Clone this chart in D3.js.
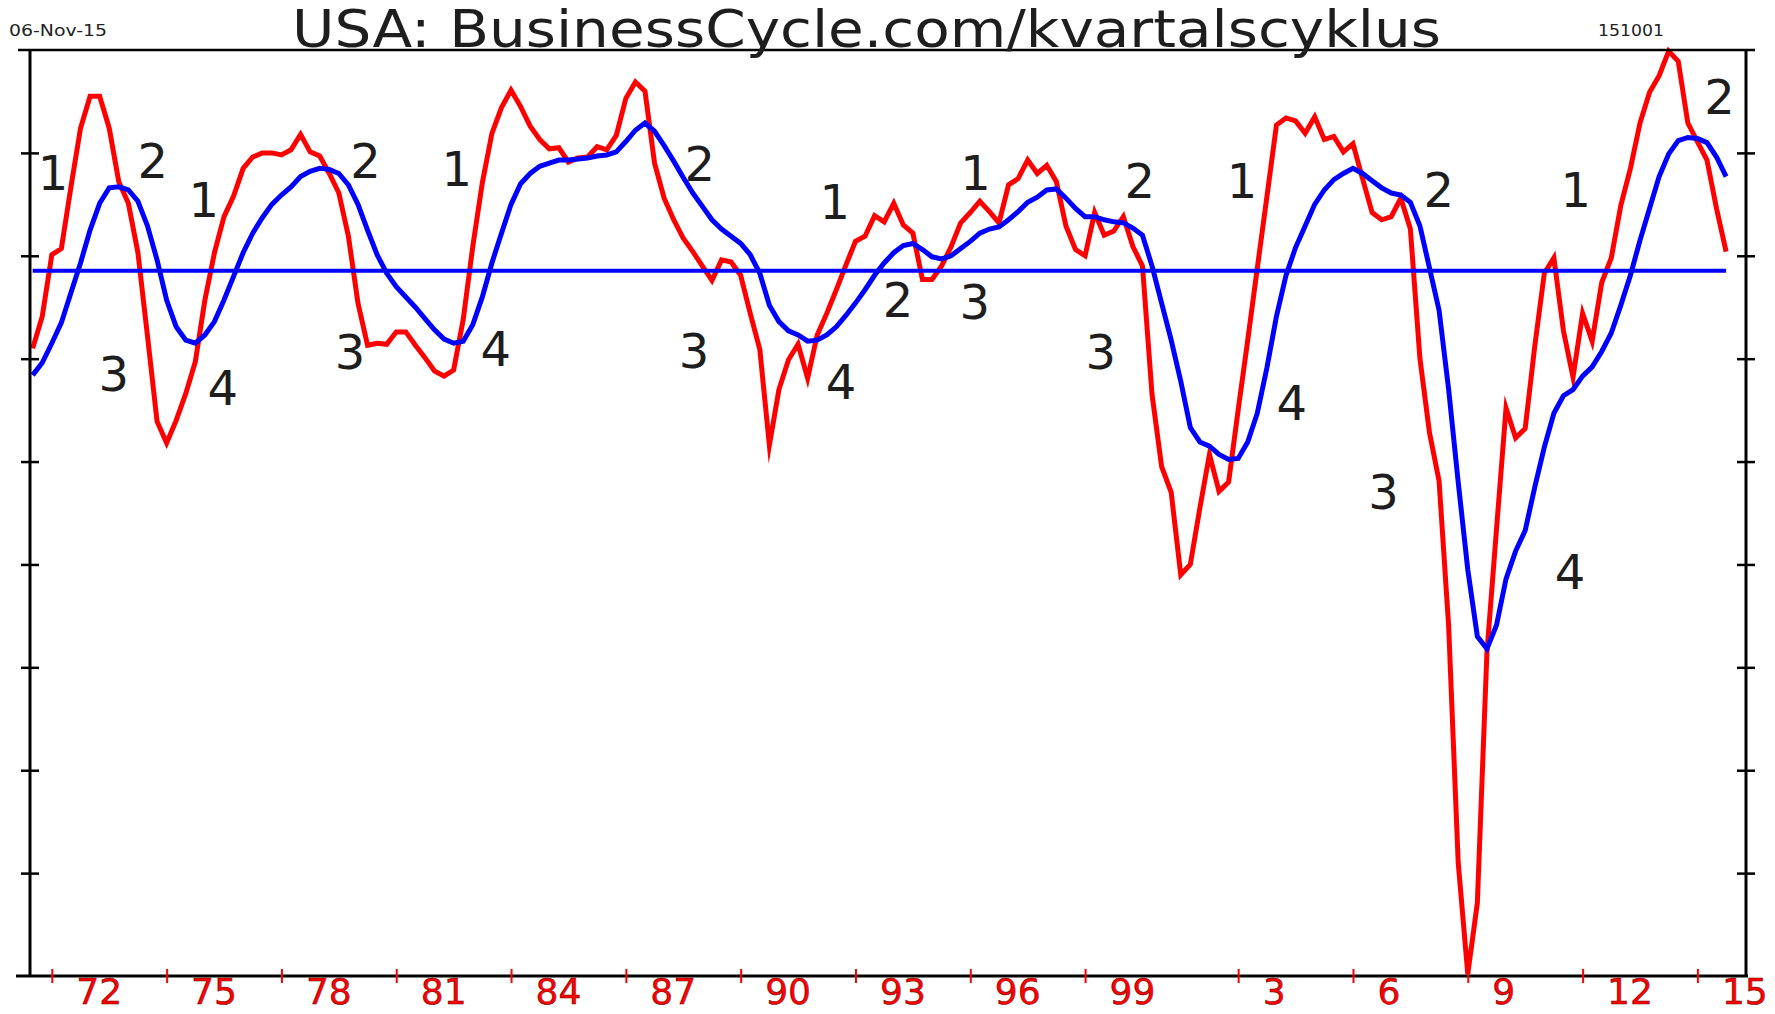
<!DOCTYPE html>
<html>
<head>
<meta charset="utf-8">
<script src="https://cdn.jsdelivr.net/npm/d3@7"></script>
<style>
  body { margin: 0; background: #fff; }
  svg { display: block; }
</style>
</head>
<body>
<div id="chart"></div>
<script>
// quarterly series, first value is Q3 1971 (1971.5)
var startYear = 1971.5;

var cycle = [
  -0.90, -0.59, 0.01, 0.07, 0.67, 1.24, 1.55, 1.55, 1.24, 0.72,
  0.51, 0.03, -0.78, -1.61, -1.82, -1.60, -1.34, -1.03, -0.43, 0.03,
  0.38, 0.58, 0.85, 0.96, 1.00, 1.00, 0.98, 1.03, 1.18, 1.01,
  0.97, 0.80, 0.61, 0.19, -0.46, -0.87, -0.85, -0.86, -0.74, -0.74,
  -0.87, -0.99, -1.12, -1.17, -1.11, -0.62, 0.09, 0.71, 1.19, 1.44,
  1.61, 1.45, 1.26, 1.13, 1.04, 1.05, 0.91, 0.95, 0.96, 1.06,
  1.03, 1.17, 1.53, 1.69, 1.60, 0.90, 0.56, 0.35, 0.17, 0.04,
  -0.10, -0.24, -0.04, -0.06, -0.19, -0.56, -0.91, -1.84, -1.30, -1.01,
  -0.86, -1.19, -0.77, -0.56, -0.33, -0.09, 0.14, 0.19, 0.39, 0.33,
  0.51, 0.30, 0.22, -0.23, -0.23, -0.10, 0.09, 0.32, 0.42, 0.53,
  0.43, 0.32, 0.69, 0.75, 0.93, 0.80, 0.88, 0.72, 0.29, 0.06,
  0.00, 0.42, 0.20, 0.24, 0.38, 0.09, -0.10, -1.35, -2.05, -2.30,
  -3.10, -3.00, -2.45, -1.93, -2.29, -2.20, -1.50, -0.82, -0.12, 0.57,
  1.27, 1.34, 1.31, 1.19, 1.35, 1.13, 1.16, 1.01, 1.09, 0.75,
  0.42, 0.35, 0.38, 0.56, 0.26, -1.00, -1.72, -2.19, -3.60, -5.90,
  -6.98, -6.29, -3.86, -2.66, -1.48, -1.77, -1.68, -0.88, -0.17, -0.02,
  -0.73, -1.18, -0.56, -0.83, -0.26, -0.02, 0.49, 0.85, 1.29, 1.59,
  1.75, 1.99, 1.89, 1.29, 1.11, 0.93, 0.46, 0.04
];

var trend = [
  -1.16, -1.04, -0.85, -0.65, -0.36, -0.07, 0.25, 0.51, 0.66, 0.67,
  0.64, 0.53, 0.29, -0.04, -0.43, -0.69, -0.82, -0.85, -0.77, -0.64,
  -0.43, -0.20, 0.03, 0.22, 0.37, 0.50, 0.59, 0.67, 0.77, 0.82,
  0.85, 0.84, 0.80, 0.69, 0.50, 0.25, 0.01, -0.17, -0.30, -0.40,
  -0.50, -0.61, -0.72, -0.81, -0.85, -0.83, -0.67, -0.40, -0.07, 0.22,
  0.50, 0.70, 0.80, 0.87, 0.90, 0.93, 0.93, 0.94, 0.95, 0.97,
  0.98, 1.01, 1.11, 1.22, 1.29, 1.21, 1.07, 0.92, 0.76, 0.61,
  0.48, 0.35, 0.26, 0.19, 0.12, 0.01, -0.17, -0.48, -0.64, -0.73,
  -0.77, -0.83, -0.82, -0.77, -0.69, -0.58, -0.46, -0.33, -0.19, -0.07,
  0.03, 0.10, 0.12, 0.06, -0.01, -0.03, 0.00, 0.07, 0.14, 0.22,
  0.26, 0.28, 0.35, 0.43, 0.52, 0.57, 0.64, 0.65, 0.56, 0.46,
  0.38, 0.38, 0.35, 0.33, 0.32, 0.27, 0.20, -0.10, -0.46, -0.82,
  -1.22, -1.67, -1.81, -1.85, -1.93, -1.98, -1.97, -1.81, -1.53, -1.09,
  -0.59, -0.19, 0.08, 0.29, 0.50, 0.64, 0.74, 0.80, 0.85, 0.80,
  0.73, 0.66, 0.61, 0.59, 0.52, 0.29, -0.12, -0.53, -1.30, -2.20,
  -3.05, -3.70, -3.82, -3.59, -3.14, -2.87, -2.67, -2.25, -1.86, -1.53,
  -1.36, -1.30, -1.17, -1.08, -0.93, -0.75, -0.48, -0.19, 0.15, 0.46,
  0.77, 0.99, 1.12, 1.15, 1.14, 1.10, 0.96, 0.77
];

var baseline = -0.145;

var tickYears = [1972, 1975, 1978, 1981, 1984, 1987, 1990, 1993, 1996, 1999, 2003, 2006, 2009, 2012, 2015];
var tickLabels = ["72", "75", "78", "81", "84", "87", "90", "93", "96", "99", "3", "6", "9", "12", "15"];
var yTicks = [-6, -5, -4, -3, -2, -1, 0, 1];

// cycle phase marks 1..4
var phaseText  = ["1", "2", "3", "1", "4", "3", "2", "1", "4", "3", "2", "1", "4", "2", "3", "1", "2", "3", "1", "4", "2", "3", "1", "4", "2"];
var phaseYear  = [1972.03, 1974.64, 1973.62, 1975.97, 1976.47, 1979.79, 1980.2, 1982.58, 1983.6, 1988.78, 1988.93, 1992.46, 1992.62, 1994.11, 1996.12, 1996.14, 2000.43, 1999.41, 2003.1, 2004.4, 2008.24, 2006.8, 2011.82, 2011.67, 2015.58];
var phaseValue = [0.81, 0.92, -1.15, 0.54, -1.28, -0.93, 0.92, 0.85, -0.90, -0.92, 0.89, 0.53, -1.22, -0.43, -0.45, 0.81, 0.73, -0.93, 0.73, -1.43, 0.64, -2.29, 0.64, -3.07, 1.55];

var width = 1775, height = 1014;
var margin = {top: 50, right: 29, bottom: 38, left: 30};
var font = "'DejaVu Sans', 'Liberation Sans', sans-serif";

var svg = d3.select("#chart")
  .append("svg")
    .attr("width", width)
    .attr("height", height)
    .style("font-family", font);

svg.append("rect").attr("width", width).attr("height", height).attr("fill", "#fff");

var x = d3.scaleLinear()
    .domain([1971.43, 2016.27])
    .range([margin.left, width - margin.right]);

var y = d3.scaleLinear()
    .domain([-7, 2])
    .range([height - margin.bottom, margin.top]);

var cyc = cycle.map(function(v, i) { return {t: startYear + i / 4, v: v}; });
var trn = trend.map(function(v, i) { return {t: startYear + i / 4, v: v}; });

var line = d3.line()
    .x(function(d) { return x(d.t); })
    .y(function(d) { return y(d.v); });

// series
svg.append("path")
    .datum(cyc)
    .attr("fill", "none")
    .attr("stroke", "#ff0000")
    .attr("stroke-width", 5)
    .attr("stroke-linejoin", "miter")
    .attr("stroke-miterlimit", 8)
    .attr("d", line);

svg.append("path")
    .datum(trn)
    .attr("fill", "none")
    .attr("stroke", "#0000ff")
    .attr("stroke-width", 5)
    .attr("d", line);

svg.append("line")
    .attr("x1", x(startYear))
    .attr("x2", x(startYear + (cycle.length - 1) / 4))
    .attr("y1", y(baseline))
    .attr("y2", y(baseline))
    .attr("stroke", "#0000ff")
    .attr("stroke-width", 4);

// frame + axes
var yLeft = svg.append("g")
    .attr("transform", "translate(" + x.range()[0] + ",0)")
    .call(d3.axisLeft(y).tickValues(yTicks).tickSize(9).tickFormat(""));
var yRight = svg.append("g")
    .attr("transform", "translate(" + x.range()[1] + ",0)")
    .call(d3.axisRight(y).tickValues(yTicks).tickSize(9).tickFormat(""));

[yLeft, yRight].forEach(function(g) {
  g.select(".domain").remove();
  g.selectAll(".tick line")
      .attr("x1", -9).attr("x2", 9)
      .attr("stroke", "#000").attr("stroke-width", 2.5);
});

svg.append("line")
    .attr("x1", x.range()[0]).attr("x2", x.range()[0])
    .attr("y1", y.range()[1]).attr("y2", y.range()[0])
    .attr("stroke", "#000").attr("stroke-width", 3);
svg.append("line")
    .attr("x1", x.range()[1]).attr("x2", x.range()[1])
    .attr("y1", y.range()[1]).attr("y2", y.range()[0])
    .attr("stroke", "#000").attr("stroke-width", 3);
svg.append("line")
    .attr("x1", x.range()[0] - 12).attr("x2", x.range()[1] + 9)
    .attr("y1", y.range()[1]).attr("y2", y.range()[1])
    .attr("stroke", "#000").attr("stroke-width", 2.5);

var xAxis = svg.append("g")
    .attr("transform", "translate(0," + y.range()[0] + ")")
    .call(d3.axisBottom(x).tickValues(tickYears).tickSize(7)
      .tickFormat(function(d, i) { return tickLabels[i]; }));

xAxis.select(".domain")
    .attr("d", "M" + (x.range()[0] - 14) + ",0H" + (x.range()[1] + 2))
    .attr("stroke", "#000")
    .attr("stroke-width", 3);

xAxis.selectAll(".tick line")
    .attr("y1", -7).attr("y2", 7)
    .attr("stroke", "#ff0000")
    .attr("stroke-width", 2);

xAxis.selectAll(".tick text")
    .attr("x", 24)
    .attr("y", 28)
    .attr("dy", null)
    .attr("text-anchor", "start")
    .attr("font-family", font)
    .attr("font-size", 36)
    .attr("fill", "#ff0000")
    .attr("stroke", "#5a0000")
    .attr("stroke-width", 0.5);

// phase numbers
svg.append("g")
  .selectAll("text")
  .data(phaseText)
  .join("text")
    .attr("x", function(d, i) { return x(phaseYear[i]); })
    .attr("y", function(d, i) { return y(phaseValue[i]); })
    .attr("dy", "0.36em")
    .attr("text-anchor", "middle")
    .attr("font-size", 48)
    .attr("fill", "#1e1e1e")
    .text(function(d) { return d; });

// texts
svg.append("text")
    .attr("x", 292)
    .attr("y", 47)
    .attr("font-size", 52)
    .attr("fill", "#1e1e1e")
    .attr("textLength", 1149)
    .attr("lengthAdjust", "spacingAndGlyphs")
    .text("USA: BusinessCycle.com/kvartalscyklus");

svg.append("text")
    .attr("x", 9)
    .attr("y", 36)
    .attr("font-size", 16)
    .attr("fill", "#222")
    .attr("textLength", 98)
    .attr("lengthAdjust", "spacingAndGlyphs")
    .text("06-Nov-15");

svg.append("text")
    .attr("x", 1598)
    .attr("y", 36)
    .attr("font-size", 16)
    .attr("fill", "#222")
    .attr("textLength", 66)
    .attr("lengthAdjust", "spacingAndGlyphs")
    .text("151001");
</script>
</body>
</html>
